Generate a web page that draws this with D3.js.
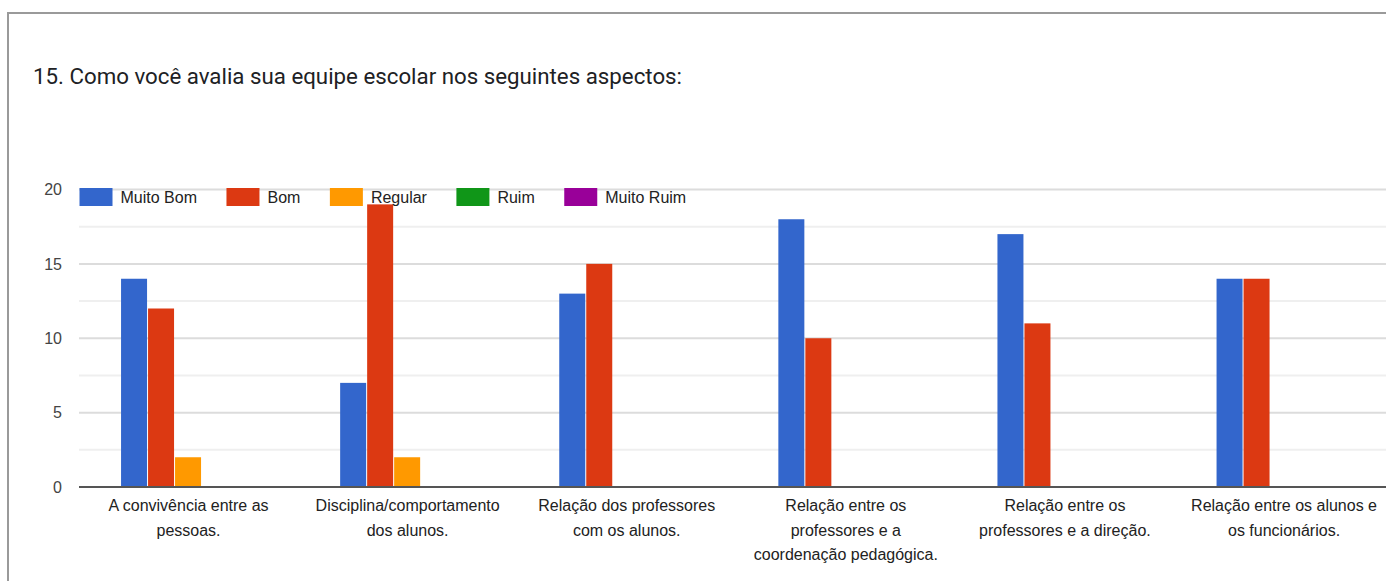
<!DOCTYPE html>
<html>
<head>
<meta charset="utf-8">
<script src="https://cdn.jsdelivr.net/npm/d3@7"></script>
<style>
  html, body { margin: 0; padding: 0; background: #fff; overflow: hidden; }
  svg { display: block; }
</style>
</head>
<body>
<div id="chart"></div>
<script>
// Data
const title = '15. Como você avalia sua equipe escolar nos seguintes aspectos:';
const categories = [
  ['A convivência entre as', 'pessoas.'],
  ['Disciplina/comportamento', 'dos alunos.'],
  ['Relação dos professores', 'com os alunos.'],
  ['Relação entre os', 'professores e a', 'coordenação pedagógica.'],
  ['Relação entre os', 'professores e a direção.'],
  ['Relação entre os alunos e', 'os funcionários.']
];
const seriesNames = ['Muito Bom', 'Bom', 'Regular', 'Ruim', 'Muito Ruim'];
const muitoBom = [14, 7, 13, 18, 17, 14];
const bom = [12, 19, 15, 10, 11, 14];
const regular = [2, 2, 0, 0, 0, 0];
const ruim = [0, 0, 0, 0, 0, 0];
const muitoRuim = [0, 0, 0, 0, 0, 0];
const yTicks = [0, 5, 10, 15, 20];
const yMinorTicks = [2.5, 7.5, 12.5, 17.5];
const colors = ['#3366cc', '#dc3912', '#ff9900', '#109618', '#990099'];

const seriesValues = [muitoBom, bom, regular, ruim, muitoRuim];
const keys = categories.map((c, i) => i);

// Dimensions (chart is cropped on the right in the original)
const W = 1386, H = 581;
const plotLeft = 79, step = 219.1, groupW = 135;
const y0 = 487, yTop = 189.5;

const svg = d3.select('#chart')
  .append('svg')
  .attr('width', W)
  .attr('height', H)
  .style('font-family', '"Liberation Sans", Arial, sans-serif');

// Scales
const x0 = d3.scaleBand().domain(keys).range([plotLeft, plotLeft + step * categories.length]);
const x1 = d3.scaleBand().domain(seriesNames)
  .range([(x0.bandwidth() - groupW) / 2, (x0.bandwidth() + groupW) / 2]);
const y = d3.scaleLinear().domain([0, 20]).range([y0, yTop]);

// Frame
svg.append('path')
  .attr('d', `M8,${H} V13 H${W}`)
  .attr('fill', 'none')
  .attr('stroke', '#9a9a9a')
  .attr('stroke-width', 2);

// Title
svg.append('text')
  .attr('x', 33)
  .attr('y', 84)
  .attr('fill', '#202124')
  .style('font-family', 'Roboto, "Noto Sans", sans-serif')
  .style('font-size', '22px')
  .attr('textLength', 649)
  .attr('lengthAdjust', 'spacingAndGlyphs')
  .text(title);

// Grid lines
svg.append('g')
  .selectAll('line')
  .data(yMinorTicks)
  .join('line')
  .attr('x1', plotLeft).attr('x2', W)
  .attr('y1', d => y(d)).attr('y2', d => y(d))
  .attr('stroke', '#efefef')
  .attr('stroke-width', 2);

svg.append('g')
  .selectAll('line')
  .data(yTicks.filter(d => d !== 0))
  .join('line')
  .attr('x1', plotLeft).attr('x2', W)
  .attr('y1', d => y(d)).attr('y2', d => y(d))
  .attr('stroke', '#dcdcdc')
  .attr('stroke-width', 2);

// Y axis labels
const yAxis = svg.append('g')
  .attr('transform', `translate(${plotLeft},0)`)
  .call(d3.axisLeft(y).tickValues(yTicks).tickSize(0).tickPadding(17));
yAxis.select('.domain').remove();
yAxis.selectAll('text')
  .attr('fill', '#444')
  .style('font-size', '16px')
  .style('font-family', '"Liberation Sans", Arial, sans-serif');

// Bars
const groups = svg.append('g')
  .selectAll('g')
  .data(keys)
  .join('g')
  .attr('transform', d => `translate(${x0(d)},0)`);

groups.selectAll('rect')
  .data(ci => seriesNames.map((s, si) => ({ s, si, v: seriesValues[si][ci] })))
  .join('rect')
  .attr('x', d => x1(d.s))
  .attr('width', x1.bandwidth() - 1)
  .attr('y', d => y(d.v))
  .attr('height', d => y(0) - y(d.v))
  .attr('fill', d => colors[d.si]);

// Baseline
svg.append('line')
  .attr('x1', plotLeft).attr('x2', W)
  .attr('y1', y(0)).attr('y2', y(0))
  .attr('stroke', '#555')
  .attr('stroke-width', 2);

// Category labels
const labels = svg.append('g')
  .selectAll('text')
  .data(keys)
  .join('text')
  .attr('x', d => x0(d) + x0.bandwidth() / 2)
  .attr('y', 511)
  .attr('text-anchor', 'middle')
  .attr('fill', '#222')
  .style('font-size', '16px');

labels.selectAll('tspan')
  .data(d => categories[d])
  .join('tspan')
  .attr('x', function () { return d3.select(this.parentNode).attr('x'); })
  .attr('dy', (d, i) => i === 0 ? 0 : 24.5)
  .text(d => d);

// Legend
const legend = svg.append('g');
let lx = 79.5;
seriesNames.forEach((name, i) => {
  legend.append('rect')
    .attr('x', lx).attr('y', 188)
    .attr('width', 33).attr('height', 18)
    .attr('fill', colors[i]);
  const t = legend.append('text')
    .attr('x', lx + 41)
    .attr('y', 203)
    .attr('fill', '#222')
    .style('font-size', '16px')
    .text(name);
  lx += 41 + t.node().getComputedTextLength() + 29.5;
});
</script>
</body>
</html>
